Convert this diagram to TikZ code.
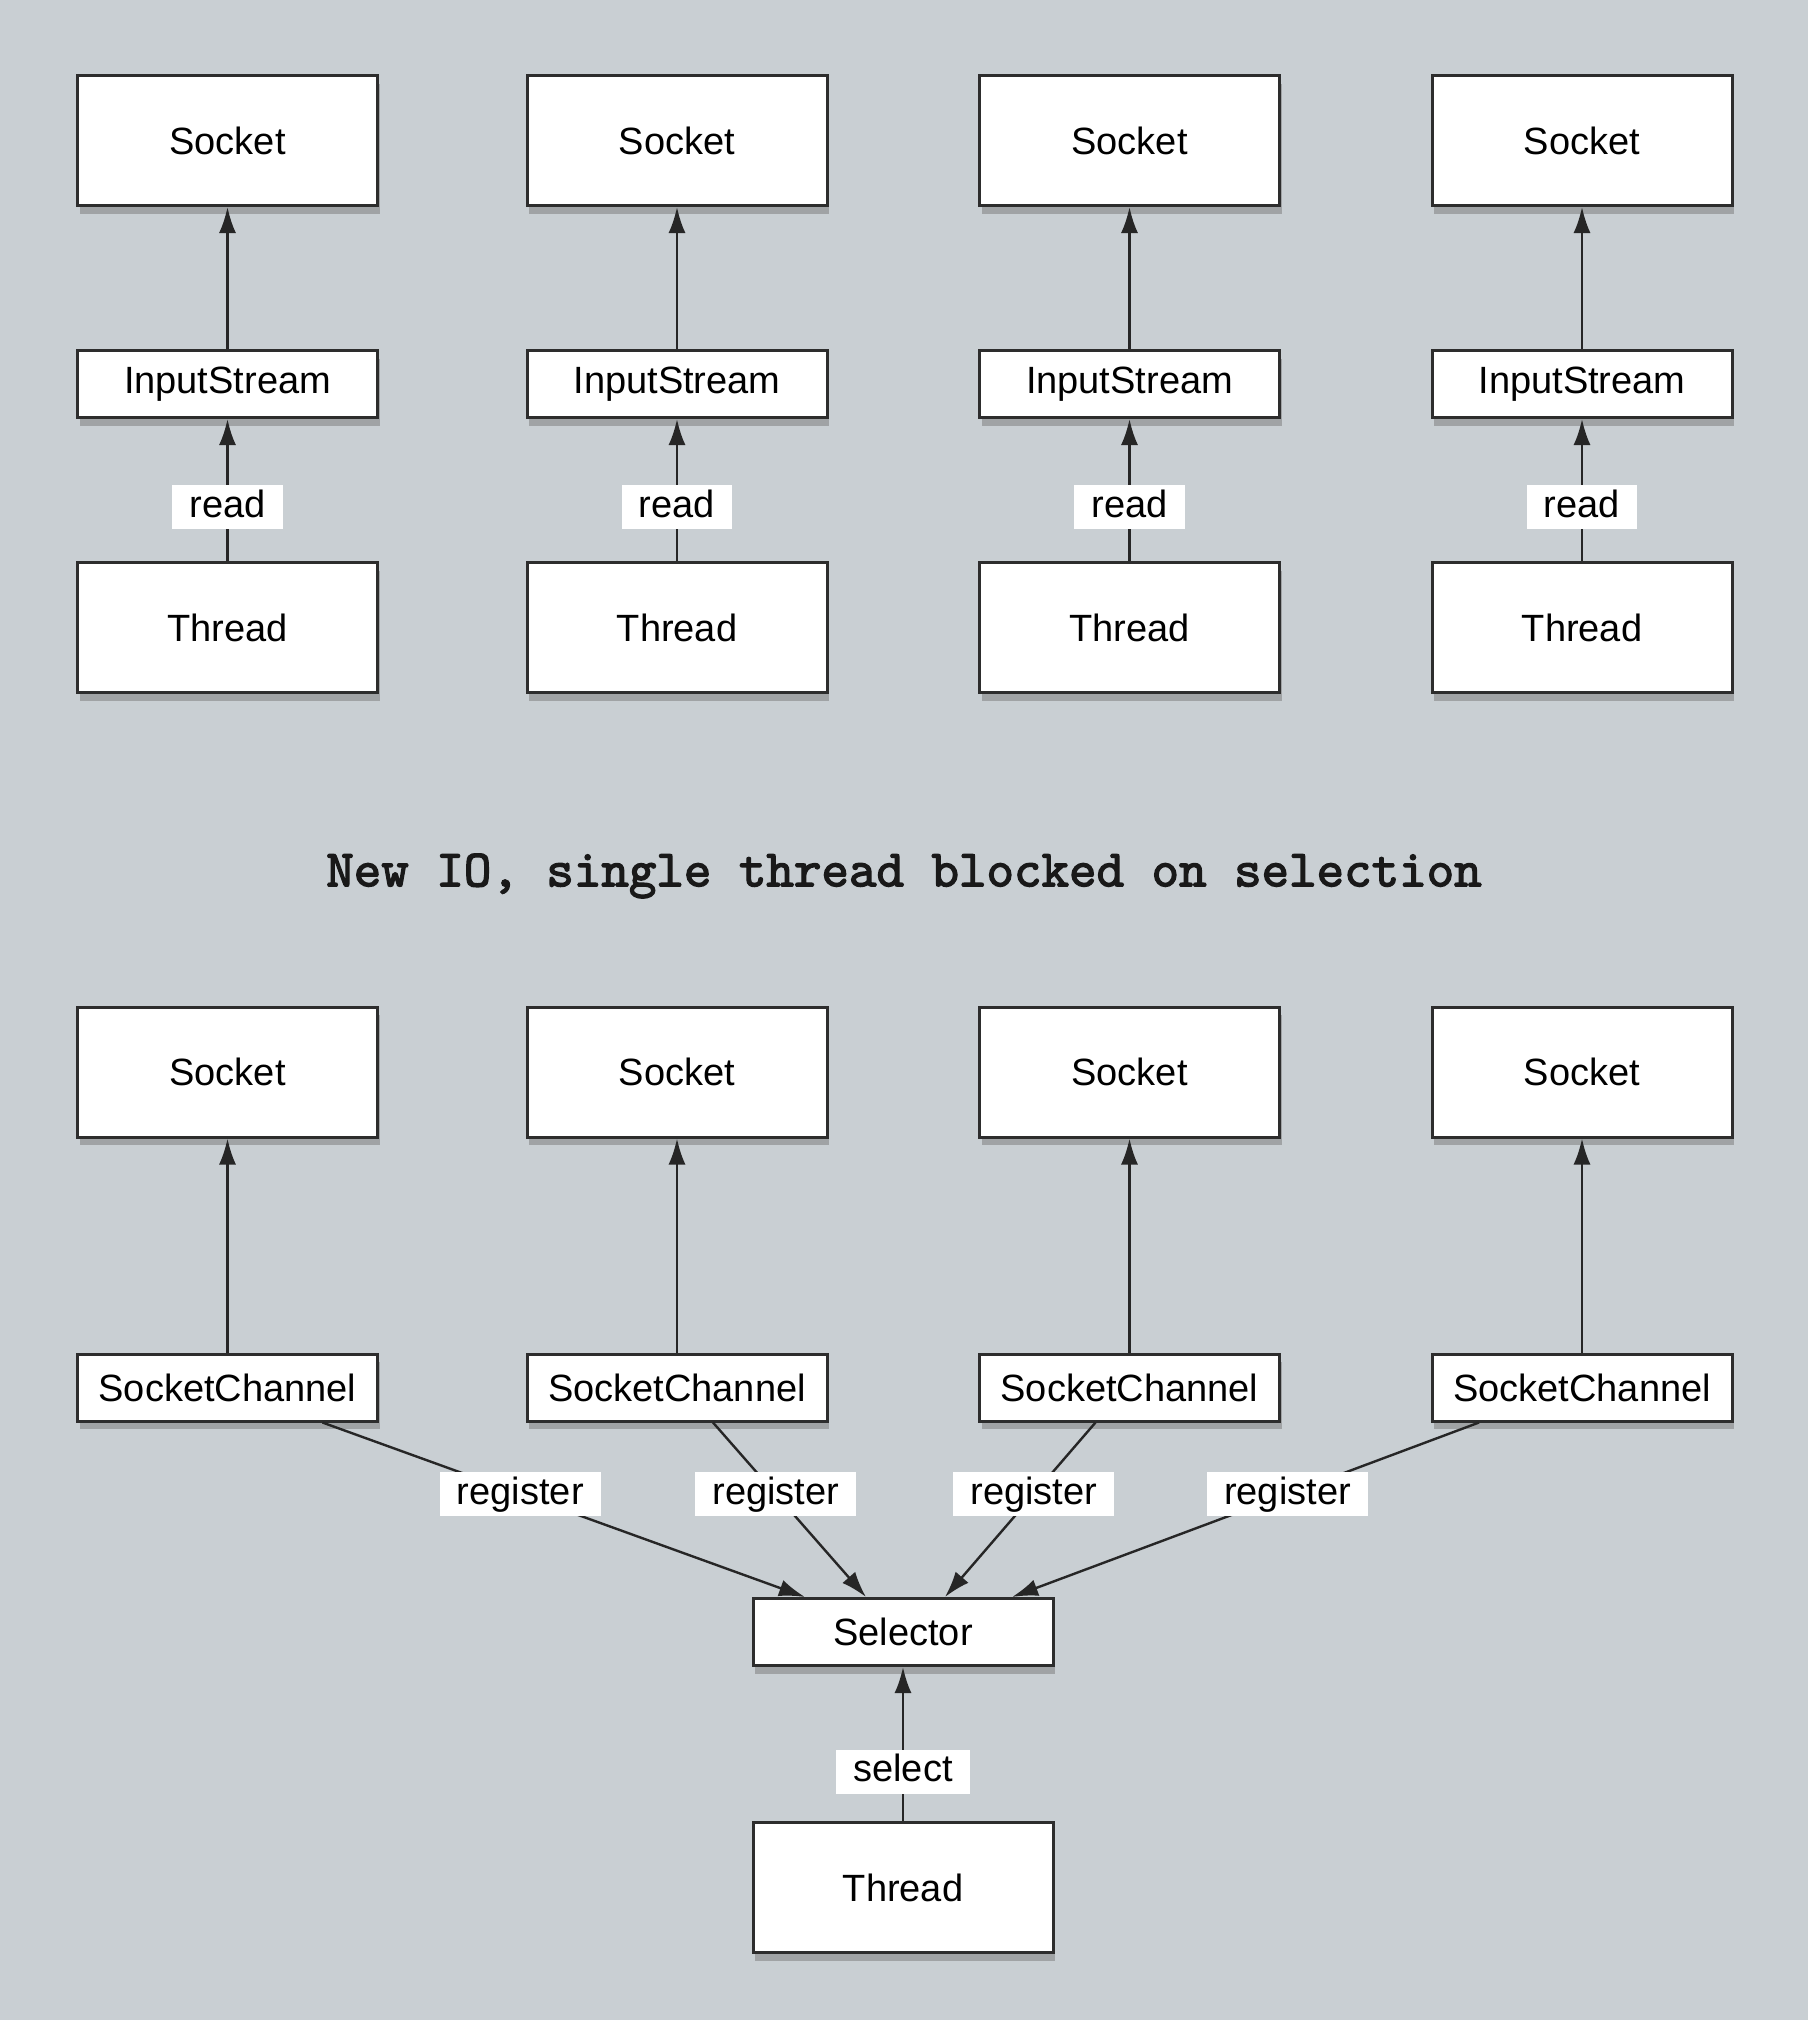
\documentclass[tikz,border=0pt]{standalone}
\usepackage{fontspec}
\setmainfont{Liberation Sans}
\newfontfamily\typefont{lmmono10-regular.otf}[FakeBold=2.5]
\usetikzlibrary{arrows.meta,positioning,shadows}
\definecolor{bggray}{RGB}{201,207,211}
\definecolor{edgegray}{RGB}{45,45,45}

\begin{document}
\begin{tikzpicture}[x=0.5pt, y=-0.5pt, node distance=71pt,
    box/.style={draw=edgegray, line width=1.5pt, fill=white, minimum width=150pt,
        font=\fontsize{19}{22}\selectfont,
        drop shadow={shadow xshift=1pt, shadow yshift=-4pt, opacity=.55}},
    tallbox/.style={box, minimum height=65pt},
    flatbox/.style={box, minimum height=33.5pt},
    link/.style={line width=1.2pt, draw=black!85, -{Latex[length=13pt,width=8.5pt]}},
    tag/.style={fill=white, inner xsep=8.5pt, inner ysep=2.5pt, text height=13.5pt,
        text depth=3.5pt, font=\fontsize{19}{22}\selectfont}]
    \fill[bggray] (0,0) rectangle (1808,2020);

    % old IO: one thread per socket
    \node [tallbox] (sock1) at (227.5,140.5) {Socket};
    \node [tallbox] (sock2) at (677,140.5) {Socket};
    \node [tallbox] (sock3) at (1129.5,140.5) {Socket};
    \node [tallbox] (sock4) at (1582,140.5) {Socket};
    \node [flatbox, below=of sock1] (in1) {InputStream};
    \node [flatbox, below=of sock2] (in2) {InputStream};
    \node [flatbox, below=of sock3] (in3) {InputStream};
    \node [flatbox, below=of sock4] (in4) {InputStream};
    \node [tallbox, below=of in1] (thr1) {Thread};
    \node [tallbox, below=of in2] (thr2) {Thread};
    \node [tallbox, below=of in3] (thr3) {Thread};
    \node [tallbox, below=of in4] (thr4) {Thread};
    \draw [link] (in1) -- (sock1);
    \draw [link] (in2) -- (sock2);
    \draw [link] (in3) -- (sock3);
    \draw [link] (in4) -- (sock4);
    \draw [link] (thr1) -- node [tag, pos=.38] {read} (in1);
    \draw [link] (thr2) -- node [tag, pos=.38] {read} (in2);
    \draw [link] (thr3) -- node [tag, pos=.38] {read} (in3);
    \draw [link] (thr4) -- node [tag, pos=.38] {read} (in4);

    \node [text=black!90, font=\fontsize{26.2}{30}\typefont] (title) at (904,876)
        {New IO, single thread blocked on selection};

    % new IO: channels registered on one selector
    \node [tallbox] (sk1) at (227.5,1072) {Socket};
    \node [tallbox] (sk2) at (677,1072) {Socket};
    \node [tallbox] (sk3) at (1129.5,1072) {Socket};
    \node [tallbox] (sk4) at (1582,1072) {Socket};
    \node [flatbox, below=107pt of sk1] (ch1) {SocketChannel};
    \node [flatbox, below=107pt of sk2] (ch2) {SocketChannel};
    \node [flatbox, below=107pt of sk3] (ch3) {SocketChannel};
    \node [flatbox, below=107pt of sk4] (ch4) {SocketChannel};
    \node [flatbox] (sel) at (903,1632) {Selector};
    \node [tallbox, below=77pt of sel] (thr) {Thread};
    \draw [link] (ch1) -- (sk1);
    \draw [link] (ch2) -- (sk2);
    \draw [link] (ch3) -- (sk3);
    \draw [link] (ch4) -- (sk4);
    \draw [link] ([xshift=47.5pt]ch1.south) -- node [tag, pos=.41] {register} ([xshift=-49pt]sel.north);
    \draw [link] ([xshift=18pt]ch2.south) -- node [tag, pos=.41] {register} ([xshift=-18.5pt]sel.north);
    \draw [link] ([xshift=-17pt]ch3.south) -- node [tag, pos=.41] {register} ([xshift=21pt]sel.north);
    \draw [link] ([xshift=-51.5pt]ch4.south) -- node [tag, pos=.41] {register} ([xshift=54.5pt]sel.north);
    \draw [link] (thr) -- node [tag, pos=.32] {select} (sel);
\end{tikzpicture}
\end{document}
